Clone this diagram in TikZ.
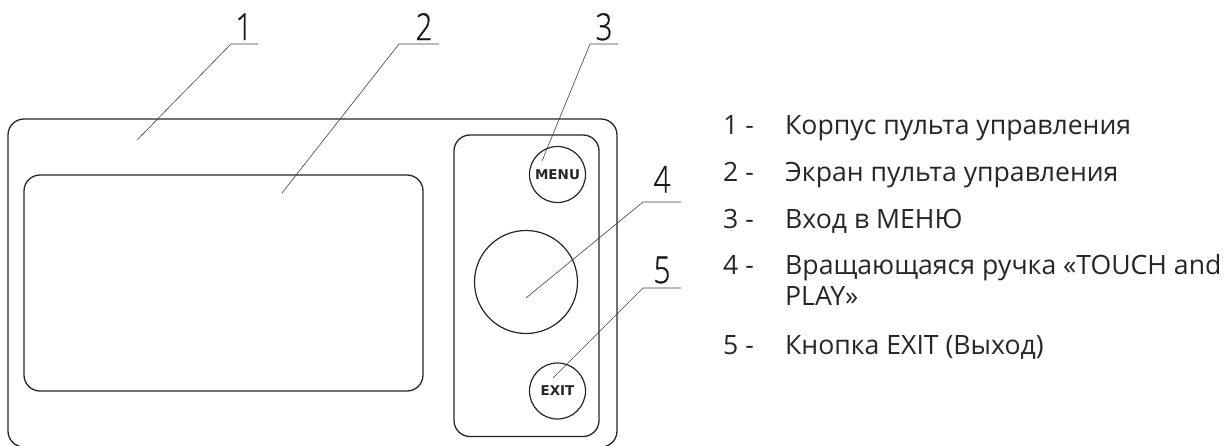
\documentclass[tikz,border=0pt]{standalone}
\usepackage{fontspec}
\setmainfont{Open Sans}
\newfontfamily\digitfont{Open Sans Light}[RawFeature={embolden=1}]
\newfontfamily\buttonfont{DejaVu Sans}
\usetikzlibrary{positioning}

\tikzset{
	panel/.style={draw=black!85,line width=1.3pt,rounded corners=16pt},
	button/.style={circle,draw=black!85,line width=1.2pt,inner sep=0pt,minimum size=56pt,font=\buttonfont\bfseries\fontsize{13.5}{13.5}\selectfont,text=black!85},
	leader/.style={draw=black!75,line width=0.6pt},
	callout/.style={inner sep=0pt,font=\digitfont\fontsize{37}{37}\selectfont,text=black!90,anchor=base},
	legendnum/.style={inner sep=0pt,anchor=base west,font=\fontsize{26.6}{31}\selectfont,text=black!85},
	legendtext/.style={inner sep=0pt,anchor=base west,align=left,font=\fontsize{26.6}{31}\selectfont,text=black!85}
}

\begin{document}
\begin{tikzpicture}[x=1pt,y=-1pt]
\useasboundingbox (0,0) rectangle (1231,445);

% housing
\draw[panel] (8,119) rectangle (617,447);
\draw[panel] (24,175) rectangle (423,391);
\draw[panel] (454,135) rectangle (599,436.5);

% controls
\node[button] (menu) at (557.5,174.5) {MENU};
\node[button] (exit) at (557.5,391) {EXIT};
\node[circle,draw=black!85,line width=1.2pt,minimum size=103pt,inner sep=0pt] (knob) at (526,282) {};

% leader ends
\coordinate (end1) at (137,140);
\coordinate (end2) at (282,193);
\coordinate (end3) at (542,161);
\coordinate (end4) at (526,298);
\coordinate (end5) at (553,378);
\coordinate (bend1) at (231,44);
\coordinate (tail1) at (258,44);
\coordinate (bend2) at (399,44);
\coordinate (tail2) at (439,44);
\coordinate (bend3) at (590,44);
\coordinate (tail3) at (618,44);
\coordinate (bend4) at (643,202);
\coordinate (tail4) at (681,202);
\coordinate (bend5) at (643,288);
\coordinate (tail5) at (681,288);

\draw[leader] (end1) -- (bend1) -- (tail1);
\draw[leader] (end2) -- (bend2) -- (tail2);
\draw[leader] (end3) -- (bend3) -- (tail3);
\draw[leader] (end4) -- (bend4) -- (tail4);
\draw[leader] (end5) -- (bend5) -- (tail5);

% numbers over the leaders
\node[callout] (num1) at (244,40) {\scalebox{0.8}[1]{1}};
\node[callout] (num2) at (424,40) {\scalebox{0.8}[1]{2}};
\node[callout] (num3) at (604,40) {\scalebox{0.8}[1]{3}};
\node[callout] (num4) at (662,192.5) {\scalebox{0.8}[1]{4}};
\node[callout] (num5) at (662,283) {\scalebox{0.8}[1]{5}};

% legend
\node[legendnum] (key1) at (723,134) {1 -};
\node[legendnum] (key2) at (723,181) {2 -};
\node[legendnum] (key3) at (723,228) {3 -};
\node[legendnum] (key4) at (723,274) {4 -};
\node[legendnum] (key5) at (723,354) {5 -};
\node[legendtext] (item1) at (785,134) {Корпус пульта управления};
\node[legendtext] (item2) at (785,181) {Экран пульта управления};
\node[legendtext] (item3) at (785,228) {Вход в МЕНЮ};
\node[legendtext] (item4) at (785,305) {Вращающаяся ручка «TOUCH and\\PLAY»};
\node[legendtext] (item5) at (785,354) {Кнопка EXIT (Выход)};
\end{tikzpicture}
\end{document}
